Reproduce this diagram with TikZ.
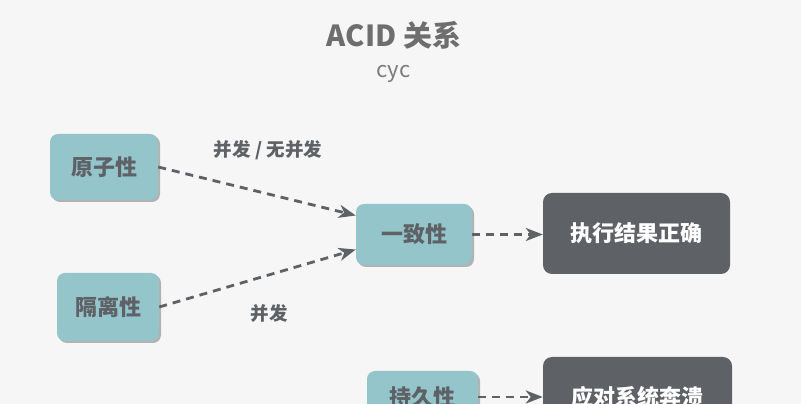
\documentclass[tikz,border=0pt]{standalone}
\usepackage{fontspec}
\usepackage{xcolor}
\usetikzlibrary{arrows.meta, positioning, shadows}
\newfontfamily\cjk{Noto Sans CJK SC}
\definecolor{bgcol}{HTML}{F6F6F6}
\definecolor{tealbox}{HTML}{94C5CB}
\definecolor{darkbox}{HTML}{5E6166}
\definecolor{txtgray}{HTML}{5E6166}
\definecolor{titlegray}{HTML}{6E6E6E}

\begin{document}
\begin{tikzpicture}[x=1pt, y=1pt,
    >={Stealth[length=17pt, width=13pt, inset=5pt]},
    prop/.style={rectangle, rounded corners=8pt, fill=tealbox, text=txtgray, inner sep=0pt,
        font=\cjk\bfseries\fontsize{22}{22}\selectfont,
        drop shadow={shadow xshift=2pt, shadow yshift=-2pt, fill=black!30, opacity=1}},
    result/.style={rectangle, rounded corners=9pt, fill=darkbox, text=white, inner sep=0pt,
        font=\cjk\bfseries\fontsize{22}{22}\selectfont},
    rel/.style={->, draw=txtgray, line width=2.8pt, dash pattern=on 8pt off 6pt},
    lbl/.style={text=txtgray, font=\cjk\bfseries\fontsize{18.5}{18.5}\selectfont}]
    % Nền
    \fill[bgcol] (0,0) rectangle (801,404);
    \useasboundingbox (0,0) rectangle (801,404);
    \clip (0,0) rectangle (801,404);

    % Tiêu đề
    \node[text=titlegray, font=\cjk\bfseries\fontsize{29}{29}\selectfont] (title) at (394,369) {ACID 关系};
    \node[text=titlegray!90, font=\cjk\fontsize{22}{22}\selectfont] (author) at (393.5,330) {cyc};

    % Các tính chất
    \node[prop, minimum width=108pt, minimum height=66pt] (atom) at (104,237) {原子性};
    \node[prop, minimum width=102pt, minimum height=68pt] (iso) at (108,97) {隔离性};
    \node[prop, minimum width=116pt, minimum height=61pt] (cons) at (414,169.5) {一致性};
    \node[prop, minimum width=111pt, minimum height=52pt] (dur) at (422.5,7) {持久性};

    % Kết quả
    \node[result, minimum width=187pt, minimum height=81pt] (exec) at (636.5,170.5) {执行结果正确};
    \node[result, minimum width=189pt, minimum height=81pt] (crash) at (637.5,6.5) {应对系统奔溃};

    % Mũi tên
    \draw[rel] (atom.east) -- ([yshift=19pt]cons.west);
    \draw[rel] (iso.east) -- ([yshift=-15pt]cons.west);
    \draw[rel] (cons.east) -- (cons.east -| exec.west);
    \draw[rel] (dur.east) -- (dur.east -| crash.west);

    % Nhãn
    \node[lbl] (lblA) at (268,254) {并发 / 无并发};
    \node[lbl] (lblB) at (269,91) {并发};
\end{tikzpicture}
\end{document}
